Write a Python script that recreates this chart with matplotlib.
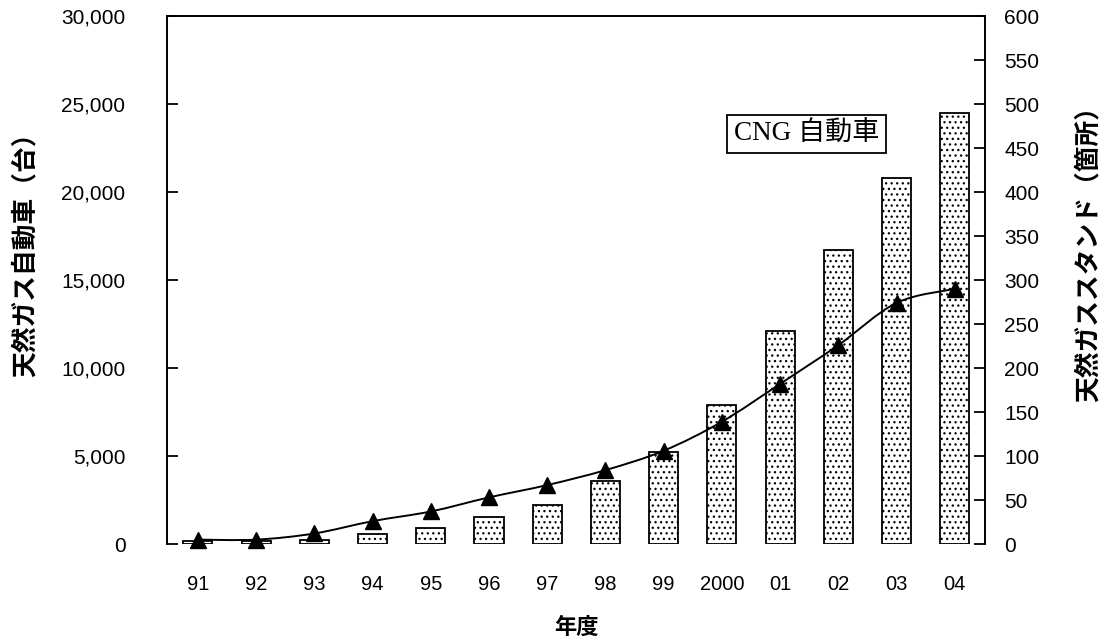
import matplotlib
matplotlib.use("Agg")
import matplotlib.pyplot as plt
from matplotlib.path import Path
from matplotlib.patches import PathPatch
from matplotlib.ticker import FuncFormatter, MultipleLocator

# Fiscal years
years = ["91", "92", "93", "94", "95", "96", "97", "98", "99", "2000", "01", "02", "03", "04"]
# Natural-gas vehicles in service (units, left axis)
vehicles = [180, 200, 250, 570, 900, 1530, 2200, 3580, 5230, 7900, 12100, 16700, 20800, 24500]
# Natural-gas filling stations (sites, right axis)
stations = [5, 5, 12, 26, 37, 53, 67, 84, 106, 139, 182, 226, 274, 290]

JP = ["Noto Sans CJK JP", "DejaVu Sans"]
NUM = ["Liberation Sans", "DejaVu Sans"]
SERIF = ["Liberation Serif", "Noto Sans CJK JP"]

plt.rcParams["hatch.linewidth"] = 0.9
plt.rcParams["hatch.color"] = "black"

fig = plt.figure(figsize=(11.1, 6.42), dpi=100)
ax = fig.add_axes([0.1505, 0.1526, 0.8874 - 0.1505, 0.975 - 0.1526])

x = list(range(len(years)))
ax.bar(x, vehicles, width=0.5, facecolor="white", edgecolor="black",
       linewidth=1.3, hatch="...", zorder=2)

ax.set_xlim(-0.53, 13.52)
ax.set_ylim(0, 30000)
ax.yaxis.set_major_locator(MultipleLocator(5000))
ax.yaxis.set_major_formatter(FuncFormatter(lambda v, p: f"{int(v):,}"))
ax.set_xticks(x)
ax.set_xticklabels(years, family=NUM, fontsize=14.5)
ax.tick_params(axis="x", length=0, pad=22)
ax.tick_params(axis="y", direction="in", length=8, width=1.3, pad=30,
               labelsize=15)
for lab in ax.get_yticklabels():
    lab.set_family(NUM)
for side in ("left", "top", "right"):
    ax.spines[side].set_linewidth(1.4)
ax.spines["bottom"].set_visible(False)

ax.set_xlabel("年度", family=JP, fontsize=16, fontweight="bold", labelpad=16)

# Vertical axis titles
fig.text(25 / 1110, 1 - 248 / 642, "天然ガス自動車（台）", family=JP,
         fontsize=18.5, fontweight="bold", rotation=90, ha="center",
         va="center")
fig.text(1088 / 1110, 1 - 248 / 642, "天然ガススタンド（箇所）", family=JP,
         fontsize=18.5, fontweight="bold", rotation=90, ha="center",
         va="center")

ax.text(9.2, 23300, "CNG 自動車", family=SERIF, fontsize=19.5, ha="left",
        va="center", zorder=5,
        bbox=dict(boxstyle="square,pad=0.25", facecolor="white",
                  edgecolor="black", linewidth=1.3))

# Station counts on the secondary axis, joined by a smoothed curve
ax2 = ax.twinx()
ax2.set_ylim(0, 600)
ax2.set_xlim(ax.get_xlim())
ax2.yaxis.set_major_locator(MultipleLocator(50))
ax2.tick_params(axis="y", direction="in", length=8, width=1.3, pad=14,
                labelsize=15)
for lab in ax2.get_yticklabels():
    lab.set_family(NUM)
for sp in ax2.spines.values():
    sp.set_visible(False)

pts = list(zip(x, stations))
verts = [pts[0]]
codes = [Path.MOVETO]
n = len(pts)
for i in range(n - 1):
    p0 = pts[i - 1] if i > 0 else pts[i]
    p1 = pts[i]
    p2 = pts[i + 1]
    p3 = pts[i + 2] if i + 2 < n else pts[i + 1]
    c1 = (p1[0] + (p2[0] - p0[0]) / 6, p1[1] + (p2[1] - p0[1]) / 6)
    c2 = (p2[0] - (p3[0] - p1[0]) / 6, p2[1] - (p3[1] - p1[1]) / 6)
    verts += [c1, c2, p2]
    codes += [Path.CURVE4] * 3
ax2.add_patch(PathPatch(Path(verts, codes), facecolor="none",
                        edgecolor="black", linewidth=1.4, zorder=3))
ax2.plot(x, stations, linestyle="none", marker="^", markersize=11.5,
         color="black", zorder=4, clip_on=False)

fig.savefig("out.png", dpi=100)
